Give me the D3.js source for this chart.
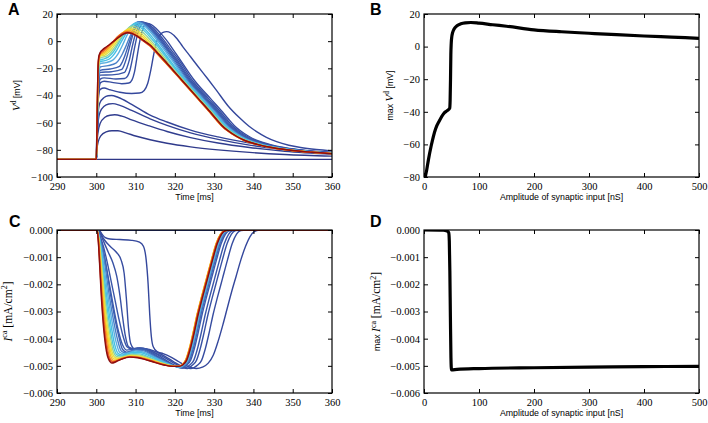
<!DOCTYPE html>
<html><head><meta charset="utf-8">
<script src="https://cdn.jsdelivr.net/npm/d3@7"></script>
<style>body{margin:0;background:#fff}svg{display:block}</style>
</head><body>
<svg id="fig" width="708" height="423"></svg>
<script>
// ---------------- data ----------------
const traceAmps = [0,10,20,30,40,50,60,70,80,90,100,120,150,180,210,250,290,330,370,410,450,500];

// membrane potential V^d (ms, mV) per trace, same order as traceAmps
const voltageTraces = [
 [[290,-87],[360,-87]],
 [[290,-87],[300,-87],[300.15,-80],[300.5,-74],[301.2,-69.5],[302.5,-66.8],[304,-65.9],[305.5,-66],[307.5,-67.5],[310,-69.8],[313.7,-72.6],[318,-75.2],[324,-77.8],[331,-80],[339,-81.9],[348,-83.4],[360,-84.6]],
 [[290,-87],[300,-87],[300.1,-78],[300.4,-68],[301,-60.5],[302.2,-56],[303.5,-54.5],[304.7,-54.2],[306.5,-55.2],[309,-58],[313.7,-62.6],[318,-66.5],[324,-71],[331,-75],[339,-78.3],[348,-81],[360,-83.2]],
 [[290,-87],[300,-87],[300.1,-75],[300.4,-61],[301,-52],[302,-48],[303.2,-46.3],[304.2,-46],[306,-47.3],[309,-51],[313.7,-57.2],[318,-62],[324,-67.5],[331,-72.3],[339,-76.5],[348,-79.8],[360,-82.6]],
 [[290,-87],[300,-87],[300.1,-72],[300.4,-55],[300.9,-45.5],[302,-41.5],[303,-40.2],[303.9,-40],[305.5,-41.3],[309,-46.5],[313.7,-54.4],[318,-59.5],[324,-65.5],[331,-70.5],[339,-75],[348,-79],[360,-82]],
 [[290,-87],[300,-87],[300.15,-80],[300.35,-55],[300.6,-40],[301,-35.5],[302,-34.5],[303.5,-35.8],[306,-37.6],[309,-38.5],[311,-38.2],[312.2,-36.3],[313.1,-31],[313.9,-21],[314.6,-10],[315.3,-1],[316.1,4.2],[317,6.5],[317.9,7],[319,6],[320.5,2],[322,-4],[324,-11.5],[326,-19],[328.3,-27.5],[330.6,-36.2],[333.5,-47.5],[336.6,-56.8],[338.8,-62.5],[340.8,-66.6],[343.3,-70.8],[345.9,-74],[349,-76.6],[352,-78.3],[356,-79.8],[360,-80.8]],
 [[290,-87],[300,-87],[300.15,-80],[300.35,-58],[300.6,-38],[301.1,-30.5],[302,-29.5],[304,-30.3],[306.5,-31.3],[308.3,-30.8],[309.1,-28.5],[309.7,-23],[310.3,-13],[310.9,-2.5],[311.6,6.5],[312.2,11.2],[312.9,13],[314,12.2],[315.3,9.2],[316.7,4.8],[318.2,-0.5],[319.7,-6.8],[321.5,-14.3],[325.1,-29.3],[329.1,-42.3],[332.1,-52],[333.7,-57.5],[335.1,-62],[336.6,-65.8],[338.8,-70],[341.1,-73.3],[344.1,-76],[348.1,-78.5],[353.1,-80.5],[358.1,-81.8],[360,-82]],
 [[290,-87],[300,-87],[300.15,-81],[300.35,-55],[300.6,-35],[301,-28],[302,-27],[305,-27.8],[307.2,-27.5],[308,-25.5],[308.6,-21],[309.2,-13],[309.8,-4],[310.5,5],[311.2,11],[312,13.8],[313.1,13],[314.4,10],[315.8,5.6],[317.3,0.4],[319,-6.2],[321,-13.8],[324.6,-29.3],[328.6,-42.3],[331.6,-52],[333.2,-57.5],[334.6,-62],[336.1,-65.8],[338.3,-70],[340.6,-73.3],[343.6,-76],[347.6,-78.5],[352.6,-80.5],[357.6,-81.8],[360,-82.2]],
 [[290,-87],[300,-87],[300.15,-82],[300.35,-55],[300.6,-33],[301,-25],[304,-24.8],[307.2,-23],[307.8,-19.5],[308.4,-14],[309,-6],[309.7,2.5],[310.5,9.6],[311.4,14.2],[312.5,13.4],[313.8,10.5],[315.2,6.2],[316.7,1],[318.5,-6],[320.5,-13.5],[324.2,-29.3],[328.2,-42.3],[331.2,-52],[332.8,-57.5],[334.2,-62],[335.7,-65.8],[337.9,-70],[340.2,-73.3],[343.2,-76],[347.2,-78.5],[352.2,-80.5],[357.2,-81.8],[360,-82.3]],
 [[290,-87],[300,-87],[300.15,-82],[300.35,-54],[300.6,-31],[301,-23],[303.8,-22.5],[306.5,-20.8],[307.1,-17.5],[307.7,-12.5],[308.4,-5],[309.2,3.5],[310.1,10.4],[311.1,14.4],[312.2,13.5],[313.5,10.6],[314.9,6.3],[316.4,1],[318.2,-6],[320.2,-13.6],[323.9,-29.3],[327.9,-42.3],[330.9,-52],[332.5,-57.5],[333.9,-62],[335.4,-65.8],[337.6,-70],[339.9,-73.3],[342.9,-76],[346.9,-78.5],[351.9,-80.5],[356.9,-81.8],[360,-82.3]],
 [[290,-87],[300,-87],[300.15,-81],[300.35,-52],[300.6,-29],[301,-21.5],[303.5,-20.5],[305.9,-18.6],[306.6,-15.5],[307.3,-10.5],[308.1,-3.5],[309,4.4],[309.9,10.6],[310.9,14.4],[312,13.5],[313.3,10.6],[314.7,6.2],[316.2,0.8],[318,-6.2],[319.9,-13.8],[323.6,-29.3],[327.6,-42.3],[330.6,-52],[332.2,-57.5],[333.6,-62],[335.1,-65.8],[337.3,-70],[339.6,-73.3],[342.6,-76],[346.6,-78.5],[351.6,-80.5],[356.6,-81.8],[360,-82.4]],
 [[290,-87],[300,-87],[300.15,-80],[300.35,-50],[300.6,-27],[301,-19],[303,-18],[305,-16.2],[305.8,-13.6],[306.6,-9.6],[307.5,-4],[308.5,3],[309.5,9.6],[310.6,14.3],[311.7,13.4],[313,10.5],[314.4,6],[315.9,0.7],[317.7,-6.4],[319.6,-14],[323.3,-29.3],[327.3,-42.3],[330.3,-52],[331.9,-57.5],[333.3,-62],[334.8,-65.8],[337,-70],[339.3,-73.3],[342.3,-76],[346.3,-78.5],[351.3,-80.5],[356.3,-81.8],[360,-82.4]],
 [[290,-87],[300,-87],[300.15,-79],[300.35,-47],[300.6,-24],[301,-16.6],[302.5,-15.8],[304.2,-14],[305,-11.6],[305.8,-8],[306.7,-2.8],[307.7,3.6],[308.9,10],[310.2,13.8],[311.4,13],[312.7,10],[314.1,5.6],[315.6,0.3],[317.4,-6.8],[319.3,-14.2],[323,-29.3],[327,-42.3],[330,-52],[331.6,-57.5],[333,-62],[334.5,-65.8],[336.7,-70],[339,-73.3],[342,-76],[346,-78.5],[351,-80.5],[356,-81.8],[360,-82.5]],
 [[290,-87],[300,-87],[300.15,-78],[300.35,-45],[300.6,-22],[301,-15],[302.2,-14.3],[303.5,-12.8],[304.3,-10.5],[305.1,-7.2],[306,-2.4],[307.1,3.4],[308.4,9.6],[309.8,13.1],[311,12.2],[312.3,9.2],[313.7,4.8],[315.2,-0.4],[317,-7.4],[318.9,-14.8],[322.75,-29.3],[326.75,-42.3],[329.75,-52],[331.35,-57.5],[332.75,-62],[334.25,-65.8],[336.45,-70],[338.75,-73.3],[341.75,-76],[345.75,-78.5],[350.75,-80.5],[355.75,-81.8],[360,-82.6]],
 [[290,-87],[300,-87],[300.15,-77],[300.35,-43],[300.6,-20.5],[301,-13.7],[302,-13],[303.1,-11.6],[303.9,-9.5],[304.7,-6.4],[305.6,-1.8],[306.7,3.6],[308,9],[309.5,12.2],[310.7,11.3],[312,8.3],[313.4,4],[314.9,-1],[316.7,-7.8],[318.6,-15],[322.5,-29.3],[326.5,-42.3],[329.5,-52],[331.1,-57.5],[332.5,-62],[334,-65.8],[336.2,-70],[338.5,-73.3],[341.5,-76],[345.5,-78.5],[350.5,-80.5],[355.5,-81.8],[360,-82.6]],
 [[290,-87],[300,-87],[300.15,-76],[300.35,-41],[300.6,-19],[301,-12.3],[302.6,-11],[303.4,-9.3],[304.2,-6.5],[305.2,-2.3],[306.3,2.8],[307.6,8],[309.1,11],[310.3,10.2],[311.6,7.4],[313,3.2],[314.5,-1.6],[316.4,-8.6],[318.3,-15.8],[322.3,-29.3],[326.3,-42.3],[329.3,-52],[330.9,-57.5],[332.3,-62],[333.8,-65.8],[336,-70],[338.3,-73.3],[341.3,-76],[345.3,-78.5],[350.3,-80.5],[355.3,-81.8],[360,-82.7]],
 [[290,-87],[300,-87],[300.15,-75],[300.35,-39],[300.6,-17.5],[301,-11.2],[302.2,-10.2],[303,-8.6],[303.8,-6],[304.8,-2.2],[305.9,2.4],[307.2,7],[308.7,9.8],[309.9,9],[311.2,6.4],[312.6,2.5],[314.1,-2],[316.1,-9],[318.1,-16.2],[322.1,-29.3],[326.1,-42.3],[329.1,-52],[330.7,-57.5],[332.1,-62],[333.6,-65.8],[335.8,-70],[338.1,-73.3],[341.1,-76],[345.1,-78.5],[350.1,-80.5],[355.1,-81.8],[360,-82.7]],
 [[290,-87],[300,-87],[300.15,-74],[300.35,-37],[300.6,-16],[301,-10.4],[301.9,-9.6],[302.7,-7.8],[303.5,-5.3],[304.5,-1.6],[305.6,2.6],[306.9,6.6],[308.4,8.8],[309.6,8],[310.9,5.6],[312.3,1.8],[313.8,-2.5],[315.9,-9.8],[317.9,-16.3],[321.9,-29.3],[325.9,-42.3],[328.9,-52],[330.5,-57.5],[331.9,-62],[333.4,-65.8],[335.6,-70],[337.9,-73.3],[340.9,-76],[344.9,-78.5],[349.9,-80.5],[354.9,-81.8],[360,-82.8]],
 [[290,-87],[300,-87],[300.15,-73],[300.35,-35],[300.6,-15],[301,-9.7],[301.7,-8.8],[302.5,-7],[303.3,-4.6],[304.3,-1.2],[305.4,2.6],[306.6,6],[308.1,7.8],[309.3,7],[310.6,4.6],[312,1],[313.6,-3],[315.8,-10.2],[317.8,-16.4],[321.8,-29.3],[325.8,-42.3],[328.8,-52],[330.4,-57.5],[331.8,-62],[333.3,-65.8],[335.5,-70],[337.8,-73.3],[340.8,-76],[344.8,-78.5],[349.8,-80.5],[354.8,-81.8],[360,-82.8]],
 [[290,-87],[300,-87],[300.15,-72],[300.35,-33],[300.6,-14],[301,-9.2],[301.6,-8],[302.4,-6],[303.2,-3.5],[304.2,-0.5],[305.3,3],[306.5,5.8],[307.9,7],[309.1,6.2],[310.4,3.8],[311.9,0.3],[313.5,-3.2],[315.8,-10.2],[317.8,-16.4],[321.8,-29.3],[325.8,-42.3],[328.8,-52],[330.4,-57.5],[331.8,-62],[333.3,-65.8],[335.5,-70],[337.8,-73.3],[340.8,-76],[344.8,-78.5],[349.8,-80.5],[354.8,-81.8],[360,-82.8]],
 [[290,-87],[300,-87],[300.15,-71],[300.35,-31],[300.6,-13],[301,-8.8],[301.6,-7],[302.4,-5],[303.3,-2.8],[304.4,0],[305.5,2.8],[306.6,5.2],[307.7,6.4],[308.9,5.8],[310.3,3.6],[311.9,0.4],[313.6,-3],[315.9,-10],[317.9,-16.3],[321.9,-29.3],[325.9,-42.3],[328.9,-52],[330.5,-57.5],[331.9,-62],[333.4,-65.8],[335.6,-70],[337.9,-73.3],[340.9,-76],[344.9,-78.5],[349.9,-80.5],[354.9,-81.8],[360,-82.8]],
 [[290,-87],[300,-87],[300.15,-70],[300.35,-30],[300.6,-12],[301,-8.3],[301.6,-6.3],[302.4,-4.5],[303.3,-2.6],[304.5,0],[305.7,2.8],[306.8,5],[308,6.2],[309.2,5.6],[310.5,3.6],[312,0.6],[313.7,-2.8],[316,-9.8],[318,-16.2],[322,-29.3],[326,-42.3],[329,-52],[330.6,-57.5],[332,-62],[333.5,-65.8],[335.7,-70],[338,-73.3],[341,-76],[345,-78.5],[350,-80.5],[355,-81.8],[360,-82.8]]
];

// calcium current I^ca (ms, mA/cm^2) per trace, same order as traceAmps
const currentTraces = [
 [[290,0],[360,0]],
 [[290,0],[360,0]],
 [[290,0],[360,0]],
 [[290,0],[360,0]],
 [[290,0],[360,0]],
 [[290,0],[300.5,0],[301,-0.00005],[301.6,-0.00018],[302.3,-0.00028],[303.5,-0.00033],[306,-0.00035],[309,-0.00038],[311,-0.00045],[312,-0.0006],[312.7,-0.0011],[313.2,-0.002],[313.6,-0.0031],[314,-0.0039],[314.5,-0.0043],[315.5,-0.00448],[317,-0.00455],[319,-0.00468],[321,-0.00485],[323,-0.005],[325.5,-0.0051],[327,-0.00505],[328.5,-0.0049],[329.8,-0.0046],[331,-0.0041],[332.2,-0.0035],[333.3,-0.0029],[334.4,-0.0023],[335.6,-0.0017],[336.8,-0.0011],[338,-0.0006],[339.1,-0.00025],[340.2,-0.00006],[341.5,0],[360,0]],
 [[290,0],[300.4,0],[301,-0.0001],[302,-0.00035],[303.5,-0.0006],[305,-0.0008],[306.3,-0.0011],[307.1,-0.0016],[307.7,-0.0026],[308.2,-0.0036],[308.8,-0.0042],[309.8,-0.00438],[311.5,-0.00436],[313.5,-0.0044],[315.5,-0.0045],[317.5,-0.00465],[319.7,-0.00485],[322,-0.00503],[324,-0.0051],[325.8,-0.00497],[326.8,-0.0048],[327.7,-0.0044],[328.7,-0.0038],[329.75,-0.0031],[330.8,-0.0025],[332.1,-0.0018],[333.4,-0.0011],[334.6,-0.0005],[335.7,-0.00015],[336.8,-0.00002],[338.1,0],[360,0]],
 [[290,0],[300.35,0],[300.9,-0.0001],[301.8,-0.0004],[303,-0.0008],[304.2,-0.0012],[305.2,-0.0017],[306,-0.0024],[306.7,-0.0032],[307.4,-0.0039],[308.2,-0.0043],[309.5,-0.00437],[311,-0.00434],[313,-0.0044],[315,-0.00452],[317.2,-0.00468],[319.4,-0.00487],[321.5,-0.00502],[323.2,-0.0051],[324.5,-0.00497],[325.5,-0.0048],[326.4,-0.0044],[327.4,-0.0038],[328.45,-0.0031],[329.5,-0.0025],[330.8,-0.0018],[332.1,-0.0011],[333.3,-0.0005],[334.4,-0.00015],[335.5,-0.00002],[336.8,0],[360,0]],
 [[290,0],[300.35,0],[300.9,-0.0002],[301.8,-0.0006],[302.8,-0.0012],[303.8,-0.0019],[304.8,-0.0026],[305.8,-0.0033],[306.8,-0.0039],[307.8,-0.0043],[309,-0.00438],[310.5,-0.00434],[312,-0.00435],[313.8,-0.00445],[315.6,-0.0046],[317.8,-0.0048],[320,-0.00498],[322.3,-0.00508],[323.8,-0.00497],[324.8,-0.0048],[325.7,-0.0044],[326.7,-0.0038],[327.75,-0.0031],[328.8,-0.0025],[330.1,-0.0018],[331.4,-0.0011],[332.6,-0.0005],[333.7,-0.00015],[334.8,-0.00002],[336.1,0],[360,0]],
 [[290,0],[300.3,0],[300.9,-0.0002],[301.7,-0.0007],[302.6,-0.0014],[303.6,-0.0022],[304.6,-0.003],[305.6,-0.0037],[306.6,-0.0042],[307.7,-0.00442],[309,-0.0044],[310.5,-0.00436],[312,-0.00437],[313.6,-0.00447],[315.4,-0.00463],[317.6,-0.00483],[319.8,-0.005],[322,-0.00508],[323,-0.00497],[324,-0.0048],[324.9,-0.0044],[325.9,-0.0038],[326.95,-0.0031],[328,-0.0025],[329.3,-0.0018],[330.6,-0.0011],[331.8,-0.0005],[332.9,-0.00015],[334,-0.00002],[335.3,0],[360,0]],
 [[290,0],[300.3,0],[301,-0.0003],[301.8,-0.0008],[302.7,-0.0015],[303.65,-0.0024],[304.65,-0.0032],[305.7,-0.0039],[306.7,-0.0044],[307.7,-0.0045],[308.9,-0.00445],[310.2,-0.00439],[311.8,-0.0044],[313.4,-0.0045],[315.2,-0.00465],[317.5,-0.00484],[319.6,-0.00499],[321.7,-0.00507],[322.7,-0.00497],[323.7,-0.0048],[324.6,-0.0044],[325.6,-0.0038],[326.65,-0.0031],[327.7,-0.0025],[329,-0.0018],[330.3,-0.0011],[331.5,-0.0005],[332.6,-0.00015],[333.7,-0.00002],[335,0],[360,0]],
 [[290,0],[300.3,0],[300.9,-0.0003],[301.65,-0.0008],[302.5,-0.0016],[303.4,-0.0025],[304.35,-0.0033],[305.35,-0.004],[306.35,-0.00445],[307.4,-0.00452],[308.6,-0.00448],[310,-0.00442],[311.6,-0.00443],[313.2,-0.00452],[315,-0.00467],[317.5,-0.00485],[319.5,-0.00499],[321.5,-0.00506],[322.5,-0.00497],[323.5,-0.0048],[324.4,-0.0044],[325.4,-0.0038],[326.45,-0.0031],[327.5,-0.0025],[328.8,-0.0018],[330.1,-0.0011],[331.3,-0.0005],[332.4,-0.00015],[333.5,-0.00002],[334.8,0],[360,0]],
 [[290,0],[300.25,0],[300.8,-0.0003],[301.5,-0.0009],[302.3,-0.0017],[303.15,-0.0026],[304.05,-0.0034],[305,-0.0041],[305.95,-0.0045],[307,-0.00456],[308.3,-0.00452],[309.8,-0.00446],[311.4,-0.00447],[313.1,-0.00456],[315,-0.0047],[317.5,-0.00487],[319.5,-0.00499],[321.3,-0.00505],[322.3,-0.00497],[323.3,-0.0048],[324.2,-0.0044],[325.2,-0.0038],[326.25,-0.0031],[327.3,-0.0025],[328.6,-0.0018],[329.9,-0.0011],[331.1,-0.0005],[332.2,-0.00015],[333.3,-0.00002],[334.6,0],[360,0]],
 [[290,0],[300.25,0],[300.75,-0.0003],[301.4,-0.0009],[302.1,-0.0018],[302.9,-0.0027],[303.75,-0.0035],[304.65,-0.0042],[305.6,-0.00455],[306.6,-0.0046],[308,-0.00456],[309.6,-0.0045],[311.2,-0.00451],[313,-0.0046],[315,-0.00473],[317.5,-0.00489],[319.5,-0.005],[321.1,-0.00504],[322.1,-0.00497],[323.1,-0.0048],[324,-0.0044],[325,-0.0038],[326.05,-0.0031],[327.1,-0.0025],[328.4,-0.0018],[329.7,-0.0011],[330.9,-0.0005],[332,-0.00015],[333.1,-0.00002],[334.4,0],[360,0]],
 [[290,0],[300.2,0],[300.7,-0.0003],[301.3,-0.001],[301.95,-0.0019],[302.7,-0.0028],[303.5,-0.0036],[304.4,-0.0043],[305.3,-0.0046],[306.3,-0.00464],[307.8,-0.0046],[309.4,-0.00455],[311.1,-0.00456],[312.9,-0.00465],[315,-0.00477],[317.5,-0.00491],[319.5,-0.005],[320.9,-0.00503],[321.9,-0.00497],[322.9,-0.0048],[323.8,-0.0044],[324.8,-0.0038],[325.85,-0.0031],[326.9,-0.0025],[328.2,-0.0018],[329.5,-0.0011],[330.7,-0.0005],[331.8,-0.00015],[332.9,-0.00002],[334.2,0],[360,0]],
 [[290,0],[300.2,0],[300.65,-0.0003],[301.2,-0.001],[301.8,-0.0019],[302.5,-0.0029],[303.3,-0.0037],[304.2,-0.0044],[305.1,-0.00465],[306.1,-0.00468],[307.6,-0.00463],[309.2,-0.00458],[311,-0.0046],[312.8,-0.00468],[315,-0.0048],[317.5,-0.00493],[319.5,-0.005],[320.8,-0.00502],[321.8,-0.00497],[322.8,-0.0048],[323.7,-0.0044],[324.7,-0.0038],[325.75,-0.0031],[326.8,-0.0025],[328.1,-0.0018],[329.4,-0.0011],[330.6,-0.0005],[331.7,-0.00015],[332.8,-0.00002],[334.1,0],[360,0]],
 [[290,0],[300.2,0],[300.6,-0.0003],[301.1,-0.001],[301.7,-0.002],[302.35,-0.003],[303.1,-0.0038],[304,-0.00448],[304.9,-0.0047],[305.9,-0.00472],[307.4,-0.00466],[309,-0.00462],[310.8,-0.00464],[312.7,-0.00471],[315,-0.00482],[317.5,-0.00494],[319.5,-0.00501],[320.75,-0.00502],[321.75,-0.00497],[322.75,-0.0048],[323.65,-0.0044],[324.65,-0.0038],[325.7,-0.0031],[326.75,-0.0025],[328.05,-0.0018],[329.35,-0.0011],[330.55,-0.0005],[331.65,-0.00015],[332.75,-0.00002],[334.05,0],[360,0]],
 [[290,0],[300.2,0],[300.58,-0.0003],[301.05,-0.0011],[301.6,-0.0021],[302.2,-0.0031],[302.95,-0.0039],[303.8,-0.00455],[304.7,-0.00475],[305.7,-0.00474],[307.2,-0.00468],[308.8,-0.00464],[310.7,-0.00466],[312.6,-0.00473],[315,-0.00484],[317.5,-0.00495],[319.5,-0.00501],[320.7,-0.00502],[321.7,-0.00497],[322.7,-0.0048],[323.6,-0.0044],[324.6,-0.0038],[325.65,-0.0031],[326.7,-0.0025],[328,-0.0018],[329.3,-0.0011],[330.5,-0.0005],[331.6,-0.00015],[332.7,-0.00002],[334,0],[360,0]],
 [[290,0],[300.2,0],[300.55,-0.0003],[301,-0.0011],[301.5,-0.0022],[302.1,-0.0032],[302.8,-0.004],[303.6,-0.00462],[304.5,-0.0048],[305.5,-0.00477],[307,-0.0047],[308.7,-0.00465],[310.6,-0.00467],[312.5,-0.00474],[315,-0.00485],[317.5,-0.00496],[319.5,-0.00502],[320.75,-0.00502],[321.75,-0.00497],[322.75,-0.0048],[323.65,-0.0044],[324.65,-0.0038],[325.7,-0.0031],[326.75,-0.0025],[328.05,-0.0018],[329.35,-0.0011],[330.55,-0.0005],[331.65,-0.00015],[332.75,-0.00002],[334.05,0],[360,0]],
 [[290,0],[300.2,0],[300.52,-0.0003],[300.95,-0.0012],[301.4,-0.0023],[301.95,-0.0033],[302.6,-0.0041],[303.35,-0.00468],[304.3,-0.00484],[305.3,-0.0048],[306.8,-0.00472],[308.6,-0.00466],[310.5,-0.00468],[312.5,-0.00475],[315,-0.00486],[317.5,-0.00497],[319.5,-0.00502],[320.8,-0.00502],[321.8,-0.00497],[322.8,-0.0048],[323.7,-0.0044],[324.7,-0.0038],[325.75,-0.0031],[326.8,-0.0025],[328.1,-0.0018],[329.4,-0.0011],[330.6,-0.0005],[331.7,-0.00015],[332.8,-0.00002],[334.1,0],[360,0]],
 [[290,0],[300.2,0],[300.5,-0.00035],[300.9,-0.0013],[301.35,-0.0024],[301.85,-0.0034],[302.45,-0.0042],[303.2,-0.00472],[304.1,-0.00487],[305.1,-0.00483],[306.6,-0.00474],[308.5,-0.00467],[310.5,-0.00469],[312.5,-0.00476],[315,-0.00487],[317.5,-0.00497],[319.5,-0.00502],[320.9,-0.00502],[321.9,-0.00497],[322.9,-0.0048],[323.8,-0.0044],[324.8,-0.0038],[325.85,-0.0031],[326.9,-0.0025],[328.2,-0.0018],[329.5,-0.0011],[330.7,-0.0005],[331.8,-0.00015],[332.9,-0.00002],[334.2,0],[360,0]],
 [[290,0],[300.2,0],[300.5,-0.0004],[300.9,-0.0014],[301.3,-0.0025],[301.8,-0.0035],[302.4,-0.0043],[303.1,-0.00475],[304,-0.0049],[305,-0.00485],[306.5,-0.00475],[308.5,-0.00468],[310.5,-0.0047],[312.5,-0.00477],[315,-0.00488],[317.5,-0.00498],[319.5,-0.00502],[321,-0.00502],[322,-0.00497],[323,-0.0048],[323.9,-0.0044],[324.9,-0.0038],[325.95,-0.0031],[327,-0.0025],[328.3,-0.0018],[329.6,-0.0011],[330.8,-0.0005],[331.9,-0.00015],[333,-0.00002],[334.3,0],[360,0]]
];

// panel B: max V^d vs amplitude
const ampB  = [0,2.4,5,8,13,21,28,36,42,46.7,47.5,48.2,48.8,49.5,50.5,52,55,60,67,75,85,100,125,150,200,250,300,350,400,450,500];
const maxVd = [-87,-80,-75.5,-69.5,-61,-50.5,-45.5,-41,-39.3,-37.8,-33,-20,-5,2,6,8.5,11,12.8,14,14.6,14.8,14.4,13.4,12.5,10.3,9.1,8.2,7.3,6.5,5.8,5.1];

// panel D: max I^ca vs amplitude
const ampD  = [0,35,42,45,46,47,48,49,50,60,100,200,300,400,500];
const maxIca = [0,-0.00001,-0.00004,-0.0001,-0.0004,-0.0015,-0.0032,-0.0047,-0.00515,-0.00513,-0.0051,-0.00507,-0.00505,-0.00503,-0.00502];

// ticks
const timeTicks = [290,300,310,320,330,340,350,360];
const vTicks = [-100,-80,-60,-40,-20,0,20];
const ampTicks = [0,100,200,300,400,500];
const maxVTicks = [-80,-60,-40,-20,0,20];
const iTicks = [-0.006,-0.005,-0.004,-0.003,-0.002,-0.001,0];

// colour map stops (fraction of max amplitude)
const colorStops = [0,0.1,0.2,0.24,0.3,0.38,0.46,0.53,0.6,0.68,0.76,0.84,0.92,1];
const colorValues = ["#2e3787","#34479c","#3d5fb0","#4a80c8","#5aaee0","#3fc4e4","#5dcad6","#b9dc72","#ebe33a","#fad62a","#f9a825","#f0641e","#d32a1f","#8c0e0e"];

// ---------------- drawing ----------------
const svg = d3.select("#fig");
const color = d3.scaleLinear().domain(colorStops).range(colorValues).interpolate(d3.interpolateRgb).clamp(true);
const maxAmp = d3.max(traceAmps);

function panel(id, box, xDom, yDom, xTicks, yTicks, xFmt, yFmt) {
  const x = d3.scaleLinear().domain(xDom).range([box.l, box.r]);
  const y = d3.scaleLinear().domain(yDom).range([box.b, box.t]);
  svg.append("clipPath").attr("id", "clip-" + id).append("rect")
    .attr("x", box.l).attr("y", box.t).attr("width", box.r - box.l).attr("height", box.b - box.t);
  const plot = svg.append("g").attr("clip-path", `url(#clip-${id})`);
  const deco = svg.append("g");
  return {x, y, plot, deco, box, xTicks, yTicks, xFmt, yFmt};
}

function finishAxes(p) {
  const {x, y, deco, box} = p;
  const style = g => {
    g.select(".domain").remove();
    g.selectAll(".tick line").attr("stroke", "#000").attr("stroke-width", 1);
    g.selectAll(".tick text").attr("fill", "#000");
    g.attr("font-family", "'Liberation Serif', 'DejaVu Serif', serif").attr("font-size", 10.5);
  };
  deco.append("g").attr("transform", `translate(0,${box.b})`)
    .call(d3.axisBottom(x).tickValues(p.xTicks).tickSizeInner(-4).tickSizeOuter(0).tickPadding(5.5).tickFormat(p.xFmt)).call(style);
  deco.append("g").attr("transform", `translate(0,${box.t})`)
    .call(d3.axisTop(x).tickValues(p.xTicks).tickSizeInner(-4).tickSizeOuter(0).tickFormat("")).call(style);
  deco.append("g").attr("transform", `translate(${box.l},0)`)
    .call(d3.axisLeft(y).tickValues(p.yTicks).tickSizeInner(-4).tickSizeOuter(0).tickPadding(4).tickFormat(p.yFmt)).call(style);
  deco.append("g").attr("transform", `translate(${box.r},0)`)
    .call(d3.axisRight(y).tickValues(p.yTicks).tickSizeInner(-4).tickSizeOuter(0).tickFormat("")).call(style);
  deco.append("rect").attr("x", box.l).attr("y", box.t)
    .attr("width", box.r - box.l).attr("height", box.b - box.t)
    .attr("fill", "none").attr("stroke", "#000").attr("stroke-width", 1.2);
}

const fmtInt = d3.format("d");
const fmtI = d3.format(".3f");

const pA = panel("A", {l:57, r:332, t:14, b:177}, [290,360], [-100,20], timeTicks, vTicks, fmtInt, fmtInt);
const pB = panel("B", {l:424, r:699, t:14, b:177}, [0,500], [-80,20], ampTicks, maxVTicks, fmtInt, fmtInt);
const pC = panel("C", {l:57, r:332, t:230, b:393}, [290,360], [-0.006,0], timeTicks, iTicks, fmtInt, fmtI);
const pD = panel("D", {l:424, r:699, t:230, b:393}, [0,500], [-0.006,0], ampTicks, iTicks, fmtInt, fmtI);

function traces(p, data) {
  const line = d3.line().x(d => p.x(d[0])).y(d => p.y(d[1])).curve(d3.curveMonotoneX);
  p.plot.selectAll("path.trace").data(data).join("path")
    .attr("class", "trace")
    .attr("d", line)
    .attr("fill", "none")
    .attr("stroke", (d, i) => color(traceAmps[i] / maxAmp))
    .attr("stroke-width", 1.4)
    .attr("stroke-linejoin", "round");
}
traces(pA, voltageTraces);
traces(pC, currentTraces);

function summary(p, xs, ys) {
  const line = d3.line().x((d, i) => p.x(xs[i])).y(d => p.y(d)).curve(d3.curveMonotoneX);
  p.plot.append("path").datum(ys).attr("d", line)
    .attr("fill", "none").attr("stroke", "#000").attr("stroke-width", 3.2)
    .attr("stroke-linejoin", "round").attr("stroke-linecap", "butt");
}
summary(pB, ampB, maxVd);
summary(pD, ampD, maxIca);

[pA, pB, pC, pD].forEach(finishAxes);

// ---------------- text ----------------
const SANS = "'Liberation Sans', Arial, sans-serif";
const SERIF = "'Liberation Serif', 'DejaVu Serif', serif";

[["A",8,15],["B",370,15],["C",9,227],["D",370,227]].forEach(([t,x,y]) => {
  svg.append("text").attr("x", x).attr("y", y).text(t)
    .attr("font-family", SANS).attr("font-weight", "bold").attr("font-size", 16);
});

function xTitle(p, txt) {
  svg.append("text").attr("x", (p.box.l + p.box.r) / 2).attr("y", p.box.b + 23)
    .attr("text-anchor", "middle").attr("font-family", SANS).attr("font-size", 8.8).text(txt);
}
xTitle(pA, "Time [ms]");
xTitle(pC, "Time [ms]");
xTitle(pB, "Amplitude of synaptic input [nS]");
xTitle(pD, "Amplitude of synaptic input [nS]");

function vLabel(xpos, p, withMax) {
  const t = svg.append("text").attr("transform", `translate(${xpos},${(p.box.t + p.box.b) / 2}) rotate(-90)`)
    .attr("text-anchor", "middle");
  if (withMax) t.append("tspan").attr("font-family", SANS).attr("font-size", 8.8).text("max ");
  t.append("tspan").attr("font-family", SERIF).attr("font-style", "italic").attr("font-size", 11).text("V");
  t.append("tspan").attr("font-family", SERIF).attr("font-size", 7.5).attr("dy", -4).text("d");
  t.append("tspan").attr("font-family", SANS).attr("font-size", 8.8).attr("dy", 4).text(" [mV]");
}
function iLabel(xpos, p, withMax) {
  const t = svg.append("text").attr("transform", `translate(${xpos},${(p.box.t + p.box.b) / 2}) rotate(-90)`)
    .attr("text-anchor", "middle").attr("font-family", SERIF);
  if (withMax) t.append("tspan").attr("font-family", SANS).attr("font-size", 8.8).text("max ");
  t.append("tspan").attr("font-style", "italic").attr("font-size", 11.5).text("I");
  t.append("tspan").attr("font-size", 8).attr("dy", -4.5).text("ca");
  t.append("tspan").attr("font-size", 11.5).attr("dy", 4.5).text(" [mA/cm");
  t.append("tspan").attr("font-size", 8).attr("dy", -4.5).text("2");
  t.append("tspan").attr("font-size", 11.5).attr("dy", 4.5).text("]");
}
vLabel(20, pA, false);
vLabel(393, pB, true);
iLabel(11.5, pC, false);
iLabel(380, pD, true);
</script>
</body></html>
